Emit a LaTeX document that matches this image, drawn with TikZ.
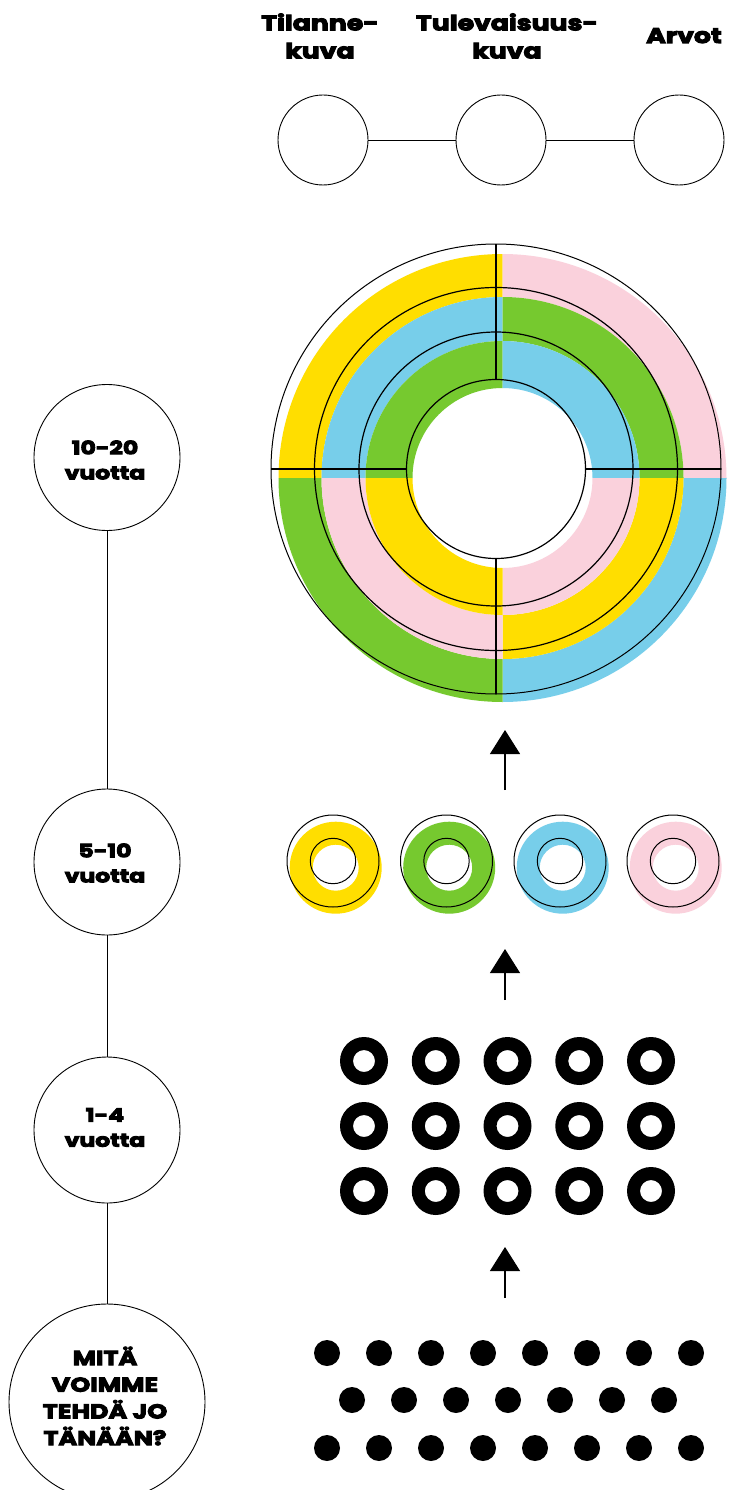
\documentclass[tikz,border=0pt]{standalone}
\usepackage{fontspec}
\setmainfont{Poppins}[FakeStretch=1.27, BoldFeatures={FakeBold=5}]
\usetikzlibrary{calc,arrows.meta}
\definecolor{cyel}{RGB}{255,222,0}
\definecolor{cgrn}{RGB}{118,201,47}
\definecolor{cblu}{RGB}{119,206,234}
\definecolor{cpnk}{RGB}{250,209,220}
\begin{document}
\begin{tikzpicture}[x=1pt,y=-1pt,
  toplab/.style={font=\bfseries\fontsize{21}{28}\selectfont, align=center, inner sep=0pt},
  timelab/.style={font=\bfseries\fontsize{18.5}{25}\selectfont, align=center, inner sep=0pt},
  bigq/.style={font=\bfseries\fontsize{20}{26.7}\selectfont, align=center, inner sep=0pt},
  topcirc/.style={draw, circle, line width=0.9pt, minimum size=90pt, inner sep=0pt},
  timecirc/.style={draw, circle, line width=0.9pt, minimum size=146pt, inner sep=0pt},
  conn/.style={line width=0.9pt},
  outl/.style={line width=1.2pt},
  uparrow/.style={line width=1.1pt, -{Triangle[width=30pt,length=24pt]}}
]
\fill[white] (0,0) rectangle (733,1490);
\useasboundingbox (0,0) rectangle (733,1490);

% top labels
\node[toplab] (ltil) at (320,36) {Tilanne-\\kuva};
\node[toplab] (ltul) at (507,36) {Tulevaisuus-\\kuva};
\node[toplab, anchor=base] (larv) at (684,43) {Arvot};

% top circles
\node[topcirc] (ctil) at (323,140) {};
\node[topcirc] (ctul) at (501,140) {};
\node[topcirc] (carv) at (679,140) {};
\draw[conn] (ctil) -- (ctul);
\draw[conn] (ctul) -- (carv);

% big ring colours
\coordinate (O) at (502.5,478);
\foreach \ro/\ri/\ctl/\ctr/\cbr/\cbl in {224/181/cyel/cpnk/cblu/cgrn, 181/137/cblu/cgrn/cyel/cpnk, 137/90/cgrn/cblu/cpnk/cyel}{
  \foreach \a/\cc in {180/\ctl, 270/\ctr, 0/\cbr, 90/\cbl}{
    \fill[fill=\cc] ($(O)+(\a:\ro)$) arc[start angle=\a, delta angle=90, radius=\ro]
      -- ($(O)+(\a+90:\ri)$) arc[start angle=\a+90, delta angle=-90, radius=\ri] -- cycle;
  }
}
% big ring outlines
\coordinate (P) at (496,469);
\draw[line width=1pt] (P) circle[radius=225];
\draw[outl] (P) circle[radius=181.5];
\draw[outl] (P) circle[radius=137];
\draw[outl] (P) circle[radius=89.5];
\foreach \a in {0,90,180,270}{
  \draw[outl] ($(P)+(\a:89.5)$) -- ($(P)+(\a:225)$);
}

% arrows
\coordinate (a1s) at (505,790); \coordinate (a1e) at (505,730);
\coordinate (a2s) at (505,1000); \coordinate (a2e) at (505,949);
\coordinate (a3s) at (505,1298); \coordinate (a3e) at (505,1247);
\draw[uparrow] (a1s) -- (a1e);
\draw[uparrow] (a2s) -- (a2e);
\draw[uparrow] (a3s) -- (a3e);

% small coloured rings
\foreach \x/\cc in {333/cyel, 446.5/cgrn, 560/cblu, 673/cpnk}{
  \fill[fill=\cc, even odd rule] (\x+2.7,867.7) circle[radius=46] (\x+2.7,867.7) circle[radius=23];
  \draw[line width=1pt] (\x,861) circle[radius=46] (\x,861) circle[radius=22.7];
}

% black rings grid
\foreach \i in {0,...,4}{
  \foreach \y in {1061,1126,1191}{
    \fill[black, even odd rule] (364+71.75*\i,\y) circle[radius=24] (364+71.75*\i,\y) circle[radius=11];
  }
}

% dots
\foreach \i in {0,...,7}{
  \fill (327+52*\i,1353) circle[radius=13];
  \fill (327+52*\i,1448) circle[radius=13];
}
\foreach \i in {0,...,6}{
  \fill (352+52*\i,1400) circle[radius=13];
}

% timeline
\node[timecirc] (t1) at (107,457.5) {};
\node[timecirc] (t2) at (107,862) {};
\node[timecirc] (t3) at (107,1130) {};
\node[draw, circle, line width=0.9pt, minimum size=196pt, inner sep=0pt] (t4) at (107,1402) {};
\draw[conn] (t1) -- (t2);
\draw[conn] (t2) -- (t3);
\draw[conn] (t3) -- (t4);
\node[timelab] (l1) at (105,460) {10-20\\vuotta};
\node[timelab] (l2) at (105,863) {5-10\\vuotta};
\node[timelab] (l3) at (105,1127.5) {1-4\\vuotta};
\node[bigq] (l4) at (105,1396) {MITÄ\\VOIMME\\TEHDÄ JO\\TÄNÄÄN?};
\end{tikzpicture}
\end{document}
